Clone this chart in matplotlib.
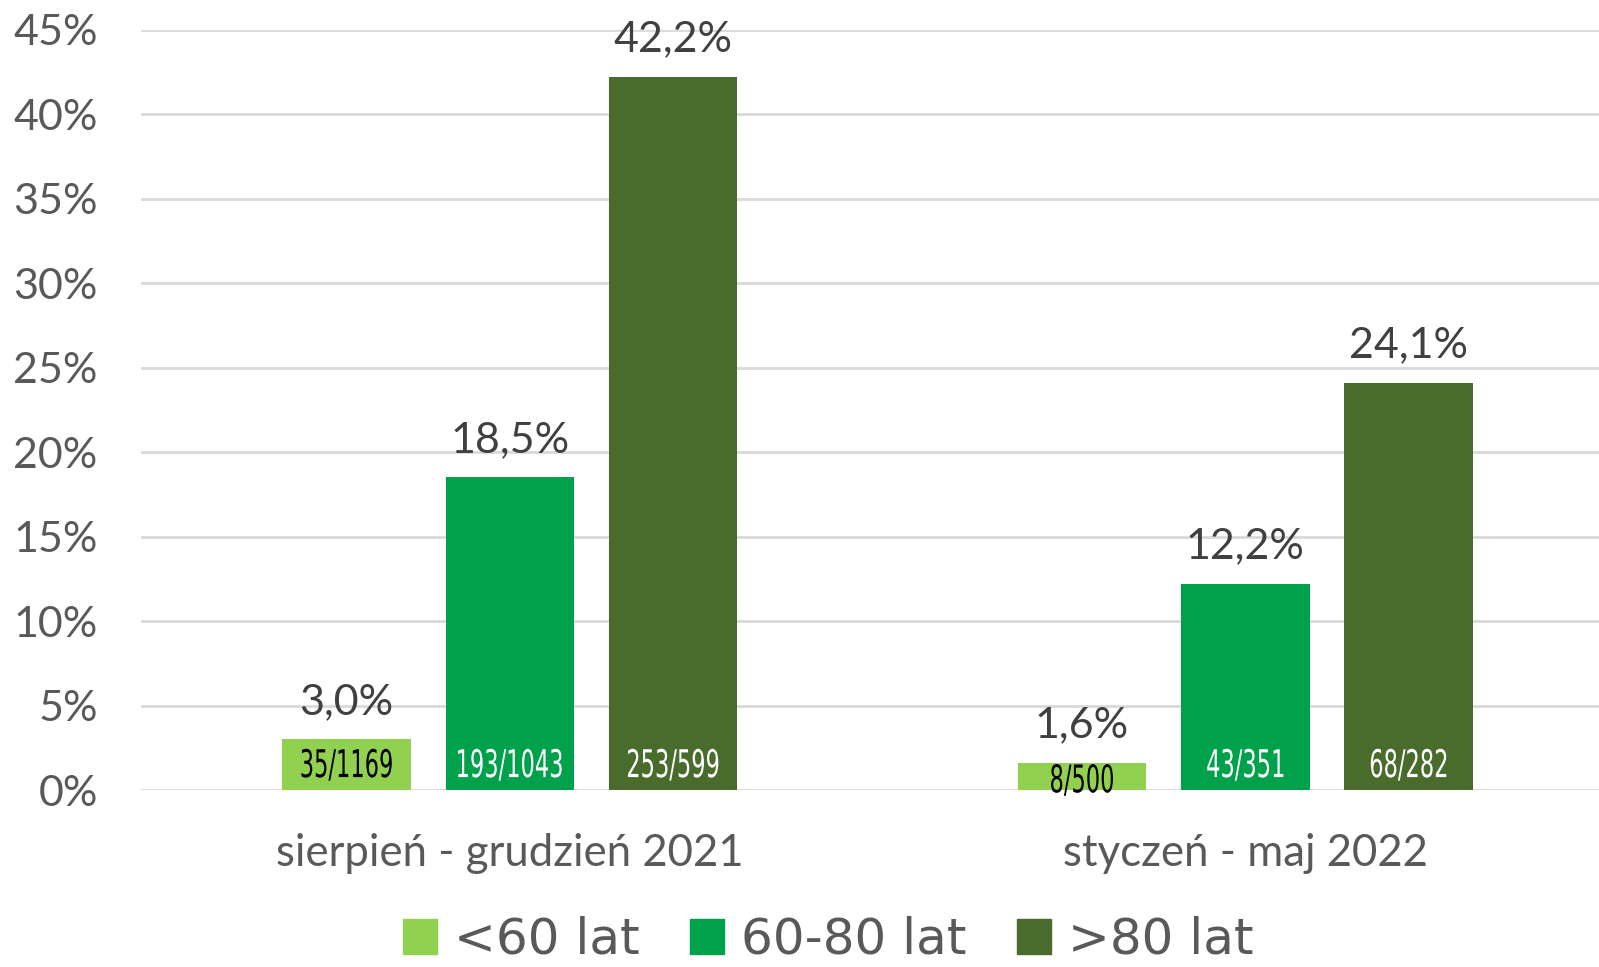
import matplotlib
matplotlib.use("Agg")
import matplotlib.pyplot as plt
from matplotlib.textpath import TextPath
from matplotlib.patches import PathPatch
from matplotlib.font_manager import FontProperties
import matplotlib.transforms as mtransforms
import numpy as np

categories = ["sierpień - grudzień 2021", "styczeń - maj 2022"]
series = ["<60 lat", "60-80 lat", ">80 lat"]
values = {
    "<60 lat": [3.0, 1.6],
    "60-80 lat": [18.5, 12.2],
    ">80 lat": [42.2, 24.1],
}
counts = {
    "<60 lat": ["35/1169", "8/500"],
    "60-80 lat": ["193/1043", "43/351"],
    ">80 lat": ["253/599", "68/282"],
}
colors = ["#92D050", "#00A14B", "#496C2C"]
inner_colors = ["black", "white", "white"]

main_font = "Lato"
DPI = 100


def condensed_text(ax, x, y, s, size, color, sx=0.6):
    # text drawn as a path, squeezed horizontally (the source uses a narrow font)
    tp = TextPath((0, 0), s, size=size, prop=FontProperties(family="DejaVu Sans"))
    bb = tp.get_extents()
    k = DPI / 72
    tr = (mtransforms.Affine2D()
          .translate(-(bb.x0 + bb.x1) / 2, -(bb.y0 + bb.y1) / 2)
          .scale(sx * k, k)
          + mtransforms.ScaledTranslation(x, y, ax.transData))
    p = PathPatch(tp, transform=tr, facecolor=color, edgecolor="none",
                  zorder=5, clip_on=False)
    ax.add_patch(p)


fig = plt.figure(figsize=(15.99, 9.67), dpi=DPI)
ax = fig.add_axes([0.088, 0.183, 0.912, 0.7864])

x = np.arange(len(categories))
step = 0.222
width = 0.175
for i, s in enumerate(series):
    pos = x + (i - 1) * step
    v = np.array(values[s]) / 100
    ax.bar(pos, v, width=width, color=colors[i], zorder=3)
    for p, val, c in zip(pos, v, counts[s]):
        ax.text(p, val + 0.011, f"{val*100:.1f}%".replace(".", ","),
                ha="center", va="bottom", fontsize=31, color="#404040",
                family=main_font)
        condensed_text(ax, p, min(0.015, val - 0.01), c, 27.5,
                       inner_colors[i], sx=0.59)

ax.set_xlim(-0.502, 1.481)
ax.set_ylim(0, 0.45)
ticks = np.arange(0, 0.451, 0.05)
ax.set_yticks(ticks)
ax.set_yticklabels([f"{int(round(t*100))}%" for t in ticks],
                   fontsize=31, color="#595959", family=main_font)
ax.set_xticks(x)
ax.set_xticklabels(categories, fontsize=31.5, color="#595959", family=main_font)
ax.tick_params(axis="both", length=0)
ax.tick_params(axis="y", pad=31)
ax.tick_params(axis="x", pad=31)
ax.yaxis.grid(True, color="#D9D9D9", linewidth=2, zorder=0)
ax.set_axisbelow(True)
for sp in ax.spines.values():
    sp.set_visible(False)

handles = [plt.Rectangle((0, 0), 1, 1, color=c) for c in colors]
fig.legend(handles, series, loc="center", bbox_to_anchor=(0.518, 0.028), ncol=3,
           frameon=False, prop={"family": "DejaVu Sans", "size": 36},
           labelcolor="#595959", handlelength=0.68, handleheight=0.68,
           handletextpad=0.35, columnspacing=1.0, borderpad=0.1)

fig.savefig("out.png", dpi=DPI)
